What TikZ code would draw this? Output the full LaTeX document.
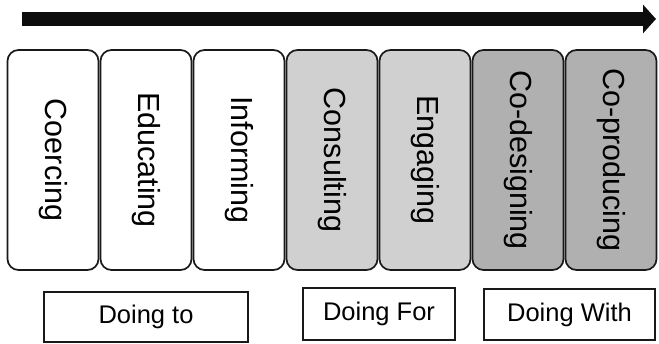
\documentclass[tikz,border=0pt]{standalone}
\usepackage{fontspec}
\setmainfont{Liberation Sans}
\usetikzlibrary{arrows.meta}
\definecolor{lightgrey}{HTML}{D0D0D0}
\definecolor{midgrey}{HTML}{B0B0B0}

\begin{document}
\begin{tikzpicture}[x=1pt, y=-1pt,
    stage/.style={draw=black!90, line width=1.7pt, rounded corners=11pt, rotate=-90,
        minimum width=220pt, minimum height=91pt, inner sep=0pt,
        font=\fontsize{30.5}{32}\selectfont},
    group/.style={draw=black!90, line width=1.7pt, inner sep=0pt,
        font=\fontsize{25.5}{27}\selectfont}]
    \useasboundingbox (0,0) rectangle (659,344);
    % Draw the arrow
    \coordinate (S) at (22,19);
    \coordinate (E) at (656,19);
    \draw[line width=14pt, black!95, -{Triangle[length=13pt,width=28pt]}] (S) -- (E);

    % Draw the stages
    \foreach \name/\txt/\shade [count=\i] in {coerce/Coercing/white, educate/Educating/white,
        inform/Informing/white, consult/Consulting/lightgrey, engage/Engaging/lightgrey,
        codesign/Co-designing/midgrey, coproduce/Co-producing/midgrey}
        \node[stage, fill=\shade] (\name) at ({53+93*(\i-1)},160) {\txt};

    % Draw the groups
    \node[group, minimum width=204pt, minimum height=50pt] (to) at (146,317) {Doing to};
    \node[group, minimum width=152pt, minimum height=52pt] (for) at (379,314) {Doing For};
    \node[group, minimum width=171pt, minimum height=51pt] (with) at (569.5,314.5) {Doing With};
\end{tikzpicture}
\end{document}
